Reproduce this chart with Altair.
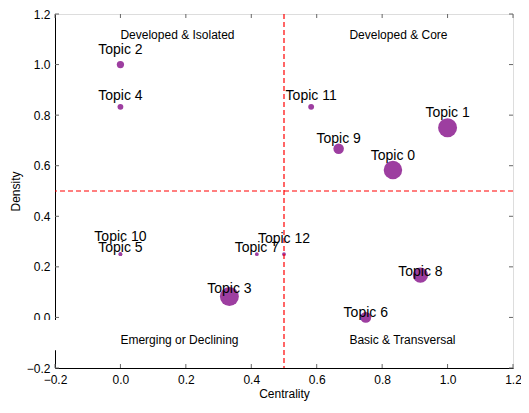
import altair as alt
import pandas as pd

# ---- data ----
topics = ["Topic 0", "Topic 1", "Topic 2", "Topic 3", "Topic 4", "Topic 5", "Topic 6",
          "Topic 7", "Topic 8", "Topic 9", "Topic 10", "Topic 11", "Topic 12"]
centrality = [0.833, 1.0, 0.0, 0.333, 0.0, 0.0, 0.75, 0.417, 0.917, 0.667, 0.0, 0.583, 0.5]
density = [0.583, 0.75, 1.0, 0.083, 0.833, 0.25, 0.0, 0.25, 0.167, 0.667, 0.25, 0.833, 0.25]
weight = [35, 37, 5.4, 37, 3.5, 1.5, 12, 1.5, 24, 11.3, 1.5, 3.5, 1.5]
label_y = [0.624, 0.791, 1.040, 0.095, 0.858, 0.258, 0.002, 0.258, 0.165, 0.690, 0.301, 0.858, 0.293]

quad_text = ["Developed & Isolated", "Developed & Core", "Emerging or Declining", "Basic & Transversal"]
quad_x = [0.0, 0.7, 0.0, 0.7]
quad_y = [1.1, 1.1, -0.105, -0.105]

threshold = [0.5]
tick_values = [-0.2, 0.0, 0.2, 0.4, 0.6, 0.8, 1.0, 1.2]

W, H = 458, 354
FONT = "Liberation Sans"

df = pd.DataFrame({"topic": topics, "x": centrality, "y": density, "w": weight, "ly": label_y})
qdf = pd.DataFrame({"text": quad_text, "x": quad_x, "y": quad_y})
thr = pd.DataFrame({"v": threshold})
tdf = pd.DataFrame({"t": tick_values})
band = pd.DataFrame({"x": [-0.4], "x2": [0.45], "y": [-0.01], "y2": [-0.13]})

xs = alt.Scale(domain=[-0.2, 1.2], nice=False, zero=False)
ys = alt.Scale(domain=[-0.2, 1.2], nice=False, zero=False)

LBL = "format(datum.value, '.1f')"

xaxis = alt.Axis(values=tick_values, labelExpr=LBL, grid=False, ticks=False,
                 labelFont=FONT, labelFontSize=12, labelColor="black", labelPadding=6,
                 domainColor="black", title="Centrality", titleFont=FONT, titleFontSize=12,
                 titleFontWeight="normal", titleColor="black", titlePadding=3,
                 labelFlush=False, labelOverlap=False)
yaxis = alt.Axis(values=tick_values, labelExpr=LBL, grid=False, ticks=False,
                 labelFont=FONT, labelFontSize=12, labelColor="black", labelPadding=5,
                 domainColor="black", title="Density", titleFont=FONT, titleFontSize=12,
                 titleFontWeight="normal", titleColor="black", titlePadding=4,
                 labelFlush=False, labelOverlap=False)


def X(field):
    return alt.X(field, scale=xs, axis=xaxis)


def Y(field):
    return alt.Y(field, scale=ys, axis=yaxis)


points = alt.Chart(df).mark_circle(color="#9d3ea0", opacity=1).encode(
    x=X("x:Q"),
    y=Y("y:Q"),
    size=alt.Size("w:Q", scale=alt.Scale(domain=[0, 37], range=[0, 360]), legend=None),
)

band_layer = alt.Chart(band).mark_rect(color="white", clip=False).encode(
    x=X("x:Q"), x2="x2:Q",
    y=Y("y:Q"), y2="y2:Q",
)

vline = alt.Chart(thr).mark_rule(color="red", strokeDash=[5, 3], strokeWidth=1.2).encode(
    x=X("v:Q"))
hline = alt.Chart(thr).mark_rule(color="red", strokeDash=[5, 3], strokeWidth=1.2).encode(
    y=Y("v:Q"))

tick_style = dict(color="#666666", strokeWidth=1)
tb = alt.Chart(tdf).mark_rule(**tick_style).encode(
    x=X("t:Q"), y=alt.value(H), y2=alt.value(H - 4))
tt = alt.Chart(tdf).mark_rule(**tick_style).encode(
    x=X("t:Q"), y=alt.value(0), y2=alt.value(4))
tl = alt.Chart(tdf).mark_rule(**tick_style).encode(
    y=Y("t:Q"), x=alt.value(0), x2=alt.value(4))
tr = alt.Chart(tdf).mark_rule(**tick_style).encode(
    y=Y("t:Q"), x=alt.value(W), x2=alt.value(W - 4))

labels = alt.Chart(df).mark_text(font=FONT, fontSize=14, color="black",
                                 align="center", baseline="alphabetic").encode(
    x=X("x:Q"),
    y=Y("ly:Q"),
    text="topic:N",
)

quads = alt.Chart(qdf).mark_text(font=FONT, fontSize=12, color="black",
                                 align="left", baseline="alphabetic").encode(
    x=X("x:Q"),
    y=Y("y:Q"),
    text="text:N",
)

chart = alt.layer(points, band_layer, vline, hline, tb, tt, tl, tr, labels, quads).properties(
    width=W, height=H,
    autosize=alt.AutoSizeParams(type="none"),
    padding={"left": 47, "top": 6, "right": 8, "bottom": 37},
).configure_view(stroke="black", strokeWidth=1).configure(background="white")

chart.save("out.html", embed_options={"renderer": "svg", "actions": False})
